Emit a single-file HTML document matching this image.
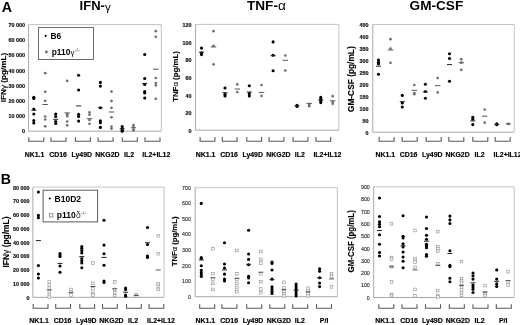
<!DOCTYPE html>
<html><head><meta charset="utf-8"><style>
html,body{margin:0;padding:0;background:#fff;}
svg{display:block;font-family:"Liberation Sans", sans-serif;}
</style></head><body>
<svg width="520" height="325" viewBox="0 0 520 325">
<defs><filter id="soft" x="0" y="0" width="1" height="1"><feGaussianBlur stdDeviation="0.3"/></filter></defs>
<g filter="url(#soft)">
<rect width="520" height="325" fill="#fff"/>
<text x="1.8" y="11.5" font-size="14.2" font-weight="bold" text-anchor="start" fill="#000" >A</text>
<text x="79.6" y="10" font-size="13" font-weight="bold" text-anchor="start" fill="#000" >IFN-<tspan font-weight="normal" font-size="11.5" dy="0.6">γ</tspan></text>
<text x="247.0" y="10" font-size="13" font-weight="bold" text-anchor="start" fill="#000" textLength="38.8" lengthAdjust="spacingAndGlyphs">TNF-<tspan font-weight="normal">α</tspan></text>
<text x="409.6" y="10" font-size="13" font-weight="bold" text-anchor="start" fill="#000" textLength="53.6" lengthAdjust="spacingAndGlyphs">GM-CSF</text>
<path d="M28.6 24.6H161.3V131.2" fill="none" stroke="#c4c4c4" stroke-width="1"/>
<path d="M28.6 24.6V131.2H161.3" fill="none" stroke="#a8a8a8" stroke-width="1"/>
<path d="M26.8 24.5H28.6" stroke="#dcdcdc" stroke-width="0.7"/>
<text x="25" y="26.7" font-size="5.4" font-weight="bold" text-anchor="end" fill="#111" stroke="#111" stroke-width="0.18">70 000</text>
<path d="M26.8 39.7H28.6" stroke="#dcdcdc" stroke-width="0.7"/>
<text x="25" y="41.900000000000006" font-size="5.4" font-weight="bold" text-anchor="end" fill="#111" stroke="#111" stroke-width="0.18">60 000</text>
<path d="M26.8 55H28.6" stroke="#dcdcdc" stroke-width="0.7"/>
<text x="25" y="57.2" font-size="5.4" font-weight="bold" text-anchor="end" fill="#111" stroke="#111" stroke-width="0.18">50 000</text>
<path d="M26.8 70.5H28.6" stroke="#dcdcdc" stroke-width="0.7"/>
<text x="25" y="72.7" font-size="5.4" font-weight="bold" text-anchor="end" fill="#111" stroke="#111" stroke-width="0.18">40 000</text>
<path d="M26.8 85.6H28.6" stroke="#dcdcdc" stroke-width="0.7"/>
<text x="25" y="87.8" font-size="5.4" font-weight="bold" text-anchor="end" fill="#111" stroke="#111" stroke-width="0.18">30 000</text>
<path d="M26.8 100.6H28.6" stroke="#dcdcdc" stroke-width="0.7"/>
<text x="25" y="102.8" font-size="5.4" font-weight="bold" text-anchor="end" fill="#111" stroke="#111" stroke-width="0.18">20 000</text>
<path d="M26.8 115.8H28.6" stroke="#dcdcdc" stroke-width="0.7"/>
<text x="25" y="118.0" font-size="5.4" font-weight="bold" text-anchor="end" fill="#111" stroke="#111" stroke-width="0.18">10 000</text>
<path d="M26.8 131H28.6" stroke="#dcdcdc" stroke-width="0.7"/>
<text x="25" y="133.2" font-size="5.4" font-weight="bold" text-anchor="end" fill="#111" stroke="#111" stroke-width="0.18">0</text>
<path d="M28.8 137.3V141.3H43.8V137.3" fill="none" stroke="#5a5a5a" stroke-width="1.1"/>
<path d="M51.0 137.3V141.3H66.0V137.3" fill="none" stroke="#5a5a5a" stroke-width="1.1"/>
<path d="M75.4 137.3V141.3H90.4V137.3" fill="none" stroke="#5a5a5a" stroke-width="1.1"/>
<path d="M98.1 137.3V141.3H113.1V137.3" fill="none" stroke="#5a5a5a" stroke-width="1.1"/>
<path d="M122.3 137.3V141.3H137.3V137.3" fill="none" stroke="#5a5a5a" stroke-width="1.1"/>
<path d="M145.0 137.3V141.3H160.0V137.3" fill="none" stroke="#5a5a5a" stroke-width="1.1"/>
<text transform="translate(5.8 77.5) rotate(-90)" x="0" y="0" font-size="8" font-weight="bold" text-anchor="middle" textLength="49.6" lengthAdjust="spacingAndGlyphs" stroke="#000" stroke-width="0.12">IFN<tspan font-weight="normal">γ</tspan> (pg/mL)</text>
<circle cx="33.8" cy="97.2" r="1.55" fill="#000"/>
<circle cx="33.8" cy="98.4" r="1.55" fill="#000"/>
<circle cx="33.8" cy="109" r="1.55" fill="#000"/>
<circle cx="33.8" cy="114" r="1.55" fill="#000"/>
<circle cx="33.8" cy="120.5" r="1.55" fill="#000"/>
<circle cx="33.8" cy="123" r="1.55" fill="#000"/>
<path d="M31.30 110.3H36.30" stroke="#222" stroke-width="1"/>
<circle cx="45.2" cy="73.2" r="1.35" fill="#707070"/>
<circle cx="45.2" cy="91.8" r="1.35" fill="#707070"/>
<circle cx="45.2" cy="100.8" r="1.35" fill="#707070"/>
<circle cx="45.2" cy="116.5" r="1.35" fill="#707070"/>
<circle cx="45.2" cy="119.5" r="1.35" fill="#707070"/>
<circle cx="45.2" cy="126.3" r="1.35" fill="#707070"/>
<path d="M42.50 104.5H47.90" stroke="#555" stroke-width="1"/>
<circle cx="55.7" cy="114" r="1.55" fill="#000"/>
<circle cx="55.7" cy="116.5" r="1.55" fill="#000"/>
<circle cx="55.7" cy="121.5" r="1.55" fill="#000"/>
<circle cx="55.7" cy="123.5" r="1.55" fill="#000"/>
<path d="M53.20 119.3H58.20" stroke="#222" stroke-width="1"/>
<circle cx="67.2" cy="80.9" r="1.35" fill="#707070"/>
<circle cx="67.2" cy="114.3" r="1.35" fill="#707070"/>
<circle cx="67.2" cy="116.2" r="1.35" fill="#707070"/>
<circle cx="67.2" cy="121.5" r="1.35" fill="#707070"/>
<circle cx="67.2" cy="125.3" r="1.35" fill="#707070"/>
<path d="M64.50 112.9H69.90" stroke="#555" stroke-width="1"/>
<circle cx="78.6" cy="75.3" r="1.55" fill="#000"/>
<circle cx="78.6" cy="90" r="1.55" fill="#000"/>
<circle cx="78.6" cy="114.3" r="1.55" fill="#000"/>
<circle cx="78.6" cy="116.4" r="1.55" fill="#000"/>
<circle cx="78.6" cy="121.1" r="1.55" fill="#000"/>
<path d="M76.10 105.9H81.10" stroke="#222" stroke-width="1"/>
<circle cx="89.5" cy="112.4" r="1.35" fill="#707070"/>
<circle cx="89.5" cy="114.8" r="1.35" fill="#707070"/>
<circle cx="89.5" cy="120" r="1.35" fill="#707070"/>
<circle cx="89.5" cy="123.8" r="1.35" fill="#707070"/>
<path d="M86.80 118.7H92.20" stroke="#555" stroke-width="1"/>
<circle cx="100.4" cy="82.4" r="1.55" fill="#000"/>
<circle cx="100.4" cy="86.1" r="1.55" fill="#000"/>
<circle cx="100.4" cy="107.8" r="1.55" fill="#000"/>
<circle cx="100.4" cy="120.7" r="1.55" fill="#000"/>
<circle cx="100.4" cy="122.8" r="1.55" fill="#000"/>
<circle cx="100.4" cy="127.4" r="1.55" fill="#000"/>
<path d="M97.90 107.8H102.90" stroke="#222" stroke-width="1"/>
<circle cx="111.5" cy="91.6" r="1.35" fill="#707070"/>
<circle cx="111.5" cy="100.9" r="1.35" fill="#707070"/>
<circle cx="111.5" cy="107.8" r="1.35" fill="#707070"/>
<circle cx="111.5" cy="117.3" r="1.35" fill="#707070"/>
<circle cx="111.5" cy="126.5" r="1.35" fill="#707070"/>
<circle cx="111.5" cy="128.6" r="1.35" fill="#707070"/>
<path d="M108.80 112H114.20" stroke="#555" stroke-width="1"/>
<circle cx="122.2" cy="126.5" r="1.55" fill="#000"/>
<circle cx="122.2" cy="128.5" r="1.55" fill="#000"/>
<circle cx="122.2" cy="130.3" r="1.55" fill="#000"/>
<circle cx="122.2" cy="131.3" r="1.55" fill="#000"/>
<path d="M119.70 128.8H124.70" stroke="#222" stroke-width="1"/>
<circle cx="133.5" cy="125" r="1.35" fill="#707070"/>
<circle cx="133.5" cy="127" r="1.35" fill="#707070"/>
<circle cx="133.5" cy="129.5" r="1.35" fill="#707070"/>
<circle cx="133.5" cy="130.5" r="1.35" fill="#707070"/>
<path d="M130.80 127.8H136.20" stroke="#555" stroke-width="1"/>
<circle cx="144.7" cy="54.5" r="1.55" fill="#000"/>
<circle cx="144.7" cy="78.5" r="1.55" fill="#000"/>
<circle cx="144.7" cy="84.4" r="1.55" fill="#000"/>
<circle cx="144.7" cy="91.6" r="1.55" fill="#000"/>
<circle cx="144.7" cy="93" r="1.55" fill="#000"/>
<circle cx="144.7" cy="98.1" r="1.55" fill="#000"/>
<path d="M142.20 83.4H147.20" stroke="#222" stroke-width="1"/>
<circle cx="155.8" cy="31.2" r="1.35" fill="#707070"/>
<circle cx="155.8" cy="36.8" r="1.35" fill="#707070"/>
<circle cx="155.8" cy="78" r="1.35" fill="#707070"/>
<circle cx="155.8" cy="83.1" r="1.35" fill="#707070"/>
<circle cx="155.8" cy="85.4" r="1.35" fill="#707070"/>
<circle cx="155.8" cy="98.8" r="1.35" fill="#707070"/>
<path d="M153.10 69.2H158.50" stroke="#555" stroke-width="1"/>
<path d="M195.6 24.4H338.8V130.2" fill="none" stroke="#c4c4c4" stroke-width="1"/>
<path d="M195.6 24.4V130.2H338.8" fill="none" stroke="#a8a8a8" stroke-width="1"/>
<path d="M193.79999999999998 24.6H195.6" stroke="#dcdcdc" stroke-width="0.7"/>
<text x="191.5" y="26.8" font-size="5.4" font-weight="bold" text-anchor="end" fill="#111" stroke="#111" stroke-width="0.18">120</text>
<path d="M193.79999999999998 42.4H195.6" stroke="#dcdcdc" stroke-width="0.7"/>
<text x="191.5" y="44.6" font-size="5.4" font-weight="bold" text-anchor="end" fill="#111" stroke="#111" stroke-width="0.18">100</text>
<path d="M193.79999999999998 60.2H195.6" stroke="#dcdcdc" stroke-width="0.7"/>
<text x="191.5" y="62.400000000000006" font-size="5.4" font-weight="bold" text-anchor="end" fill="#111" stroke="#111" stroke-width="0.18">80</text>
<path d="M193.79999999999998 78H195.6" stroke="#dcdcdc" stroke-width="0.7"/>
<text x="191.5" y="80.2" font-size="5.4" font-weight="bold" text-anchor="end" fill="#111" stroke="#111" stroke-width="0.18">60</text>
<path d="M193.79999999999998 95.6H195.6" stroke="#dcdcdc" stroke-width="0.7"/>
<text x="191.5" y="97.8" font-size="5.4" font-weight="bold" text-anchor="end" fill="#111" stroke="#111" stroke-width="0.18">40</text>
<path d="M193.79999999999998 113H195.6" stroke="#dcdcdc" stroke-width="0.7"/>
<text x="191.5" y="115.2" font-size="5.4" font-weight="bold" text-anchor="end" fill="#111" stroke="#111" stroke-width="0.18">20</text>
<path d="M193.79999999999998 130.5H195.6" stroke="#dcdcdc" stroke-width="0.7"/>
<text x="191.5" y="132.7" font-size="5.4" font-weight="bold" text-anchor="end" fill="#111" stroke="#111" stroke-width="0.18">0</text>
<path d="M200.1 137V141.3H214.9V137" fill="none" stroke="#5a5a5a" stroke-width="1.1"/>
<path d="M222.3 137V141.3H237.1V137" fill="none" stroke="#5a5a5a" stroke-width="1.1"/>
<path d="M246.8 137V141.3H261.6V137" fill="none" stroke="#5a5a5a" stroke-width="1.1"/>
<path d="M269.1 137V141.3H283.9V137" fill="none" stroke="#5a5a5a" stroke-width="1.1"/>
<path d="M293.1 137V141.3H307.9V137" fill="none" stroke="#5a5a5a" stroke-width="1.1"/>
<path d="M315.9 137V141.3H330.7V137" fill="none" stroke="#5a5a5a" stroke-width="1.1"/>
<text transform="translate(177.7 76.5) rotate(-90)" x="0" y="0" font-size="8" font-weight="bold" text-anchor="middle" textLength="50.7" lengthAdjust="spacingAndGlyphs" stroke="#000" stroke-width="0.12">TNF<tspan font-weight="normal">α</tspan> (pg/mL)</text>
<circle cx="201.5" cy="48.1" r="1.55" fill="#000"/>
<circle cx="201.5" cy="52.8" r="1.55" fill="#000"/>
<circle cx="201.5" cy="54.6" r="1.55" fill="#000"/>
<path d="M199.00 52.3H204.00" stroke="#222" stroke-width="1"/>
<circle cx="213.5" cy="31.2" r="1.35" fill="#707070"/>
<circle cx="213.5" cy="45.8" r="1.35" fill="#707070"/>
<circle cx="213.5" cy="64.3" r="1.35" fill="#707070"/>
<path d="M210.80 46.9H216.20" stroke="#555" stroke-width="1"/>
<circle cx="225" cy="88" r="1.55" fill="#000"/>
<circle cx="225" cy="94.3" r="1.55" fill="#000"/>
<circle cx="225" cy="95.9" r="1.55" fill="#000"/>
<path d="M222.50 92.7H227.50" stroke="#222" stroke-width="1"/>
<circle cx="237.3" cy="84.4" r="1.35" fill="#707070"/>
<circle cx="237.3" cy="92" r="1.35" fill="#707070"/>
<path d="M234.60 89H240.00" stroke="#555" stroke-width="1"/>
<circle cx="249.3" cy="85.7" r="1.55" fill="#000"/>
<circle cx="249.3" cy="93.6" r="1.55" fill="#000"/>
<circle cx="249.3" cy="95.9" r="1.55" fill="#000"/>
<path d="M246.80 92H251.80" stroke="#222" stroke-width="1"/>
<circle cx="261.5" cy="85" r="1.35" fill="#707070"/>
<circle cx="261.5" cy="95.9" r="1.35" fill="#707070"/>
<path d="M258.80 92.4H264.20" stroke="#555" stroke-width="1"/>
<circle cx="273.1" cy="41.9" r="1.55" fill="#000"/>
<circle cx="273.1" cy="55.2" r="1.55" fill="#000"/>
<circle cx="273.1" cy="70.7" r="1.55" fill="#000"/>
<path d="M270.60 55.7H275.60" stroke="#222" stroke-width="1"/>
<circle cx="285.3" cy="55.5" r="1.35" fill="#707070"/>
<circle cx="285.3" cy="70.5" r="1.35" fill="#707070"/>
<path d="M282.60 60.3H288.00" stroke="#555" stroke-width="1"/>
<circle cx="297" cy="105.2" r="1.55" fill="#000"/>
<circle cx="297" cy="106.4" r="1.55" fill="#000"/>
<path d="M294.50 105.8H299.50" stroke="#222" stroke-width="1"/>
<circle cx="309.2" cy="104.6" r="1.35" fill="#707070"/>
<circle cx="309.2" cy="106.2" r="1.35" fill="#707070"/>
<path d="M306.50 103.4H311.90" stroke="#555" stroke-width="1"/>
<circle cx="320.8" cy="97.4" r="1.55" fill="#000"/>
<circle cx="320.8" cy="99.2" r="1.55" fill="#000"/>
<circle cx="320.8" cy="101.1" r="1.55" fill="#000"/>
<circle cx="320.8" cy="102.6" r="1.55" fill="#000"/>
<path d="M318.30 100H323.30" stroke="#222" stroke-width="1"/>
<circle cx="332.7" cy="96.2" r="1.35" fill="#707070"/>
<circle cx="332.7" cy="102" r="1.35" fill="#707070"/>
<circle cx="332.7" cy="103.8" r="1.35" fill="#707070"/>
<path d="M330.00 100.8H335.40" stroke="#555" stroke-width="1"/>
<path d="M372.8 24.5H514.2V132.2" fill="none" stroke="#c4c4c4" stroke-width="1"/>
<path d="M372.8 24.5V132.2H514.2" fill="none" stroke="#a8a8a8" stroke-width="1"/>
<path d="M371.0 24.6H372.8" stroke="#dcdcdc" stroke-width="0.7"/>
<text x="368.5" y="26.8" font-size="5.4" font-weight="bold" text-anchor="end" fill="#111" stroke="#111" stroke-width="0.18">450</text>
<path d="M371.0 36.6H372.8" stroke="#dcdcdc" stroke-width="0.7"/>
<text x="368.5" y="38.800000000000004" font-size="5.4" font-weight="bold" text-anchor="end" fill="#111" stroke="#111" stroke-width="0.18">400</text>
<path d="M371.0 48.6H372.8" stroke="#dcdcdc" stroke-width="0.7"/>
<text x="368.5" y="50.800000000000004" font-size="5.4" font-weight="bold" text-anchor="end" fill="#111" stroke="#111" stroke-width="0.18">350</text>
<path d="M371.0 60.6H372.8" stroke="#dcdcdc" stroke-width="0.7"/>
<text x="368.5" y="62.800000000000004" font-size="5.4" font-weight="bold" text-anchor="end" fill="#111" stroke="#111" stroke-width="0.18">300</text>
<path d="M371.0 72.6H372.8" stroke="#dcdcdc" stroke-width="0.7"/>
<text x="368.5" y="74.8" font-size="5.4" font-weight="bold" text-anchor="end" fill="#111" stroke="#111" stroke-width="0.18">250</text>
<path d="M371.0 84.6H372.8" stroke="#dcdcdc" stroke-width="0.7"/>
<text x="368.5" y="86.8" font-size="5.4" font-weight="bold" text-anchor="end" fill="#111" stroke="#111" stroke-width="0.18">200</text>
<path d="M371.0 96.6H372.8" stroke="#dcdcdc" stroke-width="0.7"/>
<text x="368.5" y="98.8" font-size="5.4" font-weight="bold" text-anchor="end" fill="#111" stroke="#111" stroke-width="0.18">150</text>
<path d="M371.0 108.6H372.8" stroke="#dcdcdc" stroke-width="0.7"/>
<text x="368.5" y="110.8" font-size="5.4" font-weight="bold" text-anchor="end" fill="#111" stroke="#111" stroke-width="0.18">100</text>
<path d="M371.0 120.6H372.8" stroke="#dcdcdc" stroke-width="0.7"/>
<text x="368.5" y="122.8" font-size="5.4" font-weight="bold" text-anchor="end" fill="#111" stroke="#111" stroke-width="0.18">50</text>
<path d="M371.0 132.6H372.8" stroke="#dcdcdc" stroke-width="0.7"/>
<text x="368.5" y="134.79999999999998" font-size="5.4" font-weight="bold" text-anchor="end" fill="#111" stroke="#111" stroke-width="0.18">0</text>
<path d="M379.1 137.1V141.3H394.1V137.1" fill="none" stroke="#5a5a5a" stroke-width="1.1"/>
<path d="M402.2 137.1V141.3H417.2V137.1" fill="none" stroke="#5a5a5a" stroke-width="1.1"/>
<path d="M426.2 137.1V141.3H441.2V137.1" fill="none" stroke="#5a5a5a" stroke-width="1.1"/>
<path d="M448.8 137.1V141.3H463.8V137.1" fill="none" stroke="#5a5a5a" stroke-width="1.1"/>
<path d="M472.8 137.1V141.3H487.8V137.1" fill="none" stroke="#5a5a5a" stroke-width="1.1"/>
<path d="M495.2 137.1V141.3H510.2V137.1" fill="none" stroke="#5a5a5a" stroke-width="1.1"/>
<text transform="translate(354 79.2) rotate(-90)" x="0" y="0" font-size="8.4" font-weight="bold" text-anchor="middle" textLength="65.8" lengthAdjust="spacingAndGlyphs" stroke="#000" stroke-width="0.12">GM-CSF (pg/mL)</text>
<circle cx="378.5" cy="60" r="1.55" fill="#000"/>
<circle cx="378.5" cy="62.3" r="1.55" fill="#000"/>
<circle cx="378.5" cy="63.8" r="1.55" fill="#000"/>
<circle cx="378.5" cy="74.3" r="1.55" fill="#000"/>
<path d="M376.00 66.2H381.00" stroke="#222" stroke-width="1"/>
<circle cx="390.5" cy="39.2" r="1.35" fill="#707070"/>
<circle cx="390.5" cy="48.5" r="1.35" fill="#707070"/>
<circle cx="390.5" cy="62.8" r="1.35" fill="#707070"/>
<path d="M387.80 50H393.20" stroke="#555" stroke-width="1"/>
<circle cx="402.3" cy="95.4" r="1.55" fill="#000"/>
<circle cx="402.3" cy="102.9" r="1.55" fill="#000"/>
<circle cx="402.3" cy="107" r="1.55" fill="#000"/>
<path d="M399.80 101.7H404.80" stroke="#222" stroke-width="1"/>
<circle cx="414.3" cy="85" r="1.35" fill="#707070"/>
<circle cx="414.3" cy="93.1" r="1.35" fill="#707070"/>
<circle cx="414.3" cy="94.2" r="1.35" fill="#707070"/>
<path d="M411.60 90.3H417.00" stroke="#555" stroke-width="1"/>
<circle cx="425.4" cy="84.3" r="1.55" fill="#000"/>
<circle cx="425.4" cy="91.5" r="1.55" fill="#000"/>
<circle cx="425.4" cy="98.2" r="1.55" fill="#000"/>
<path d="M422.90 91.9H427.90" stroke="#222" stroke-width="1"/>
<circle cx="437.7" cy="78.1" r="1.35" fill="#707070"/>
<circle cx="437.7" cy="92.4" r="1.35" fill="#707070"/>
<path d="M435.00 85.7H440.40" stroke="#555" stroke-width="1"/>
<circle cx="449.5" cy="53.8" r="1.55" fill="#000"/>
<circle cx="449.5" cy="58.5" r="1.55" fill="#000"/>
<circle cx="449.5" cy="81.2" r="1.55" fill="#000"/>
<path d="M447.00 64.6H452.00" stroke="#222" stroke-width="1"/>
<circle cx="461.3" cy="59.2" r="1.35" fill="#707070"/>
<circle cx="461.3" cy="62.7" r="1.35" fill="#707070"/>
<circle cx="461.3" cy="69.9" r="1.35" fill="#707070"/>
<path d="M458.60 62.7H464.00" stroke="#555" stroke-width="1"/>
<circle cx="472.8" cy="117.2" r="1.55" fill="#000"/>
<circle cx="472.8" cy="119.3" r="1.55" fill="#000"/>
<circle cx="472.8" cy="124.6" r="1.55" fill="#000"/>
<path d="M470.30 120.9H475.30" stroke="#222" stroke-width="1"/>
<circle cx="484.7" cy="109.5" r="1.35" fill="#707070"/>
<circle cx="484.7" cy="122.7" r="1.35" fill="#707070"/>
<path d="M482.00 116.2H487.40" stroke="#555" stroke-width="1"/>
<circle cx="496.8" cy="123.9" r="1.55" fill="#000"/>
<circle cx="496.8" cy="124.7" r="1.55" fill="#000"/>
<path d="M494.30 124.3H499.30" stroke="#222" stroke-width="1"/>
<circle cx="508.3" cy="123.9" r="1.35" fill="#707070"/>
<path d="M505.60 123.9H511.00" stroke="#555" stroke-width="1"/>
<text x="34.5" y="156.6" font-size="6.95" font-weight="bold" text-anchor="middle" fill="#000" stroke="#000" stroke-width="0.15">NK1.1</text>
<text x="58" y="156.6" font-size="6.95" font-weight="bold" text-anchor="middle" fill="#000" stroke="#000" stroke-width="0.15">CD16</text>
<text x="81.75" y="156.6" font-size="6.95" font-weight="bold" text-anchor="middle" fill="#000" stroke="#000" stroke-width="0.15">Ly49D</text>
<text x="107.5" y="156.6" font-size="6.95" font-weight="bold" text-anchor="middle" fill="#000" stroke="#000" stroke-width="0.15">NKG2D</text>
<text x="129.1" y="156.6" font-size="6.95" font-weight="bold" text-anchor="middle" fill="#000" stroke="#000" stroke-width="0.15">IL2</text>
<text x="156.3" y="156.6" font-size="6.95" font-weight="bold" text-anchor="middle" fill="#000" stroke="#000" stroke-width="0.15">IL2+IL12</text>
<text x="205.6" y="156.6" font-size="6.95" font-weight="bold" text-anchor="middle" fill="#000" stroke="#000" stroke-width="0.15">NK1.1</text>
<text x="229" y="156.6" font-size="6.95" font-weight="bold" text-anchor="middle" fill="#000" stroke="#000" stroke-width="0.15">CD16</text>
<text x="252.7" y="156.6" font-size="6.95" font-weight="bold" text-anchor="middle" fill="#000" stroke="#000" stroke-width="0.15">Ly49D</text>
<text x="278.4" y="156.6" font-size="6.95" font-weight="bold" text-anchor="middle" fill="#000" stroke="#000" stroke-width="0.15">NKG2D</text>
<text x="299.75" y="156.6" font-size="6.95" font-weight="bold" text-anchor="middle" fill="#000" stroke="#000" stroke-width="0.15">IL2</text>
<text x="327.4" y="156.6" font-size="6.95" font-weight="bold" text-anchor="middle" fill="#000" stroke="#000" stroke-width="0.15">IL2+IL12</text>
<text x="385.3" y="156.6" font-size="6.95" font-weight="bold" text-anchor="middle" fill="#000" stroke="#000" stroke-width="0.15">NK1.1</text>
<text x="408.6" y="156.6" font-size="6.95" font-weight="bold" text-anchor="middle" fill="#000" stroke="#000" stroke-width="0.15">CD16</text>
<text x="432.3" y="156.6" font-size="6.95" font-weight="bold" text-anchor="middle" fill="#000" stroke="#000" stroke-width="0.15">Ly49D</text>
<text x="457.6" y="156.6" font-size="6.95" font-weight="bold" text-anchor="middle" fill="#000" stroke="#000" stroke-width="0.15">NKG2D</text>
<text x="479.5" y="156.6" font-size="6.95" font-weight="bold" text-anchor="middle" fill="#000" stroke="#000" stroke-width="0.15">IL2</text>
<text x="507.6" y="156.6" font-size="6.95" font-weight="bold" text-anchor="middle" fill="#000" stroke="#000" stroke-width="0.15">IL2+IL12</text>
<rect x="38.5" y="27.6" width="55" height="31.9" fill="#fff" stroke="#5a5a5a" stroke-width="0.9"/>
<circle cx="45.7" cy="35.8" r="1.1" fill="#000"/>
<text x="50.4" y="39" font-size="8.4" font-weight="bold" text-anchor="start" fill="#000" >B6</text>
<circle cx="46.4" cy="52" r="1.4" fill="#6a6a6a"/>
<text x="51.7" y="54.6" font-size="8.4" font-weight="bold" text-anchor="start" fill="#000" >p110<tspan font-weight="normal" dx="0.2" dy="0.6" font-size="8">γ</tspan><tspan font-size="5.6" dx="0.2" dy="-3.6" font-weight="normal" fill="#444">-/-</tspan></text>
<text x="0.8" y="183.5" font-size="14.2" font-weight="bold" text-anchor="start" fill="#000" >B</text>
<path d="M32.9 187.1H164.1V297.3" fill="none" stroke="#c4c4c4" stroke-width="1"/>
<path d="M32.9 187.1V297.3H164.1" fill="none" stroke="#a8a8a8" stroke-width="1"/>
<path d="M31.099999999999998 187.34H32.9" stroke="#dcdcdc" stroke-width="0.7"/>
<text x="29.6" y="189.54" font-size="5.4" font-weight="bold" text-anchor="end" fill="#111" stroke="#111" stroke-width="0.18">80 000</text>
<path d="M31.099999999999998 201.11H32.9" stroke="#dcdcdc" stroke-width="0.7"/>
<text x="29.6" y="203.31" font-size="5.4" font-weight="bold" text-anchor="end" fill="#111" stroke="#111" stroke-width="0.18">70 000</text>
<path d="M31.099999999999998 214.88H32.9" stroke="#dcdcdc" stroke-width="0.7"/>
<text x="29.6" y="217.07999999999998" font-size="5.4" font-weight="bold" text-anchor="end" fill="#111" stroke="#111" stroke-width="0.18">60 000</text>
<path d="M31.099999999999998 228.65H32.9" stroke="#dcdcdc" stroke-width="0.7"/>
<text x="29.6" y="230.85" font-size="5.4" font-weight="bold" text-anchor="end" fill="#111" stroke="#111" stroke-width="0.18">50 000</text>
<path d="M31.099999999999998 242.42000000000002H32.9" stroke="#dcdcdc" stroke-width="0.7"/>
<text x="29.6" y="244.62" font-size="5.4" font-weight="bold" text-anchor="end" fill="#111" stroke="#111" stroke-width="0.18">40 000</text>
<path d="M31.099999999999998 256.19H32.9" stroke="#dcdcdc" stroke-width="0.7"/>
<text x="29.6" y="258.39" font-size="5.4" font-weight="bold" text-anchor="end" fill="#111" stroke="#111" stroke-width="0.18">30 000</text>
<path d="M31.099999999999998 269.96H32.9" stroke="#dcdcdc" stroke-width="0.7"/>
<text x="29.6" y="272.15999999999997" font-size="5.4" font-weight="bold" text-anchor="end" fill="#111" stroke="#111" stroke-width="0.18">20 000</text>
<path d="M31.099999999999998 283.73H32.9" stroke="#dcdcdc" stroke-width="0.7"/>
<text x="29.6" y="285.93" font-size="5.4" font-weight="bold" text-anchor="end" fill="#111" stroke="#111" stroke-width="0.18">10 000</text>
<path d="M31.099999999999998 297.5H32.9" stroke="#dcdcdc" stroke-width="0.7"/>
<text x="29.6" y="299.7" font-size="5.4" font-weight="bold" text-anchor="end" fill="#111" stroke="#111" stroke-width="0.18">0</text>
<path d="M33.2 304V308.3H48.0V304" fill="none" stroke="#5a5a5a" stroke-width="1.1"/>
<path d="M55.7 304V308.3H70.5V304" fill="none" stroke="#5a5a5a" stroke-width="1.1"/>
<path d="M79.8 304V308.3H94.6V304" fill="none" stroke="#5a5a5a" stroke-width="1.1"/>
<path d="M102.5 304V308.3H117.3V304" fill="none" stroke="#5a5a5a" stroke-width="1.1"/>
<path d="M126.5 304V308.3H141.3V304" fill="none" stroke="#5a5a5a" stroke-width="1.1"/>
<path d="M149.0 304V308.3H163.8V304" fill="none" stroke="#5a5a5a" stroke-width="1.1"/>
<text transform="translate(9.2 242) rotate(-90)" x="0" y="0" font-size="8.3" font-weight="bold" text-anchor="middle" textLength="51" lengthAdjust="spacingAndGlyphs" stroke="#000" stroke-width="0.12">IFN<tspan font-weight="normal">γ</tspan> (pg/mL)</text>
<path d="M195.2 187.7H337.3V296.7" fill="none" stroke="#c4c4c4" stroke-width="1"/>
<path d="M195.2 187.7V296.7H337.3" fill="none" stroke="#a8a8a8" stroke-width="1"/>
<path d="M193.39999999999998 187.3H195.2" stroke="#dcdcdc" stroke-width="0.7"/>
<text x="190.9" y="189.5" font-size="5.3" font-weight="normal" text-anchor="end" fill="#111" stroke="#333" stroke-width="0.1">700</text>
<path d="M193.39999999999998 202.9H195.2" stroke="#dcdcdc" stroke-width="0.7"/>
<text x="190.9" y="205.1" font-size="5.3" font-weight="normal" text-anchor="end" fill="#111" stroke="#333" stroke-width="0.1">600</text>
<path d="M193.39999999999998 218.5H195.2" stroke="#dcdcdc" stroke-width="0.7"/>
<text x="190.9" y="220.7" font-size="5.3" font-weight="normal" text-anchor="end" fill="#111" stroke="#333" stroke-width="0.1">500</text>
<path d="M193.39999999999998 234.1H195.2" stroke="#dcdcdc" stroke-width="0.7"/>
<text x="190.9" y="236.29999999999998" font-size="5.3" font-weight="normal" text-anchor="end" fill="#111" stroke="#333" stroke-width="0.1">400</text>
<path d="M193.39999999999998 249.7H195.2" stroke="#dcdcdc" stroke-width="0.7"/>
<text x="190.9" y="251.89999999999998" font-size="5.3" font-weight="normal" text-anchor="end" fill="#111" stroke="#333" stroke-width="0.1">300</text>
<path d="M193.39999999999998 265.3H195.2" stroke="#dcdcdc" stroke-width="0.7"/>
<text x="190.9" y="267.5" font-size="5.3" font-weight="normal" text-anchor="end" fill="#111" stroke="#333" stroke-width="0.1">200</text>
<path d="M193.39999999999998 280.9H195.2" stroke="#dcdcdc" stroke-width="0.7"/>
<text x="190.9" y="283.09999999999997" font-size="5.3" font-weight="normal" text-anchor="end" fill="#111" stroke="#333" stroke-width="0.1">100</text>
<path d="M193.39999999999998 296.5H195.2" stroke="#dcdcdc" stroke-width="0.7"/>
<text x="190.9" y="298.7" font-size="5.3" font-weight="normal" text-anchor="end" fill="#111" stroke="#333" stroke-width="0.1">0</text>
<path d="M199.7 304.2V308.2H214.7V304.2" fill="none" stroke="#5a5a5a" stroke-width="1.1"/>
<path d="M221.9 304.2V308.2H236.9V304.2" fill="none" stroke="#5a5a5a" stroke-width="1.1"/>
<path d="M246.7 304.2V308.2H261.7V304.2" fill="none" stroke="#5a5a5a" stroke-width="1.1"/>
<path d="M269.8 304.2V308.2H284.8V304.2" fill="none" stroke="#5a5a5a" stroke-width="1.1"/>
<path d="M292.7 304.2V308.2H307.7V304.2" fill="none" stroke="#5a5a5a" stroke-width="1.1"/>
<path d="M316.5 304.2V308.2H331.5V304.2" fill="none" stroke="#5a5a5a" stroke-width="1.1"/>
<text transform="translate(177 241.4) rotate(-90)" x="0" y="0" font-size="8" font-weight="bold" text-anchor="middle" textLength="49.7" lengthAdjust="spacingAndGlyphs" stroke="#000" stroke-width="0.12">TNF<tspan font-weight="normal">α</tspan> (pg/mL)</text>
<path d="M373.7 186.8H514.2V297.5" fill="none" stroke="#c4c4c4" stroke-width="1"/>
<path d="M373.7 186.8V297.5H514.2" fill="none" stroke="#a8a8a8" stroke-width="1"/>
<path d="M371.9 186.89000000000001H373.7" stroke="#dcdcdc" stroke-width="0.7"/>
<text x="369.8" y="189.09" font-size="5.3" font-weight="normal" text-anchor="end" fill="#111" stroke="#333" stroke-width="0.1">900</text>
<path d="M371.9 199.18H373.7" stroke="#dcdcdc" stroke-width="0.7"/>
<text x="369.8" y="201.38" font-size="5.3" font-weight="normal" text-anchor="end" fill="#111" stroke="#333" stroke-width="0.1">800</text>
<path d="M371.9 211.47H373.7" stroke="#dcdcdc" stroke-width="0.7"/>
<text x="369.8" y="213.67" font-size="5.3" font-weight="normal" text-anchor="end" fill="#111" stroke="#333" stroke-width="0.1">700</text>
<path d="M371.9 223.76H373.7" stroke="#dcdcdc" stroke-width="0.7"/>
<text x="369.8" y="225.95999999999998" font-size="5.3" font-weight="normal" text-anchor="end" fill="#111" stroke="#333" stroke-width="0.1">600</text>
<path d="M371.9 236.05H373.7" stroke="#dcdcdc" stroke-width="0.7"/>
<text x="369.8" y="238.25" font-size="5.3" font-weight="normal" text-anchor="end" fill="#111" stroke="#333" stroke-width="0.1">500</text>
<path d="M371.9 248.34H373.7" stroke="#dcdcdc" stroke-width="0.7"/>
<text x="369.8" y="250.54" font-size="5.3" font-weight="normal" text-anchor="end" fill="#111" stroke="#333" stroke-width="0.1">400</text>
<path d="M371.9 260.63H373.7" stroke="#dcdcdc" stroke-width="0.7"/>
<text x="369.8" y="262.83" font-size="5.3" font-weight="normal" text-anchor="end" fill="#111" stroke="#333" stroke-width="0.1">300</text>
<path d="M371.9 272.92H373.7" stroke="#dcdcdc" stroke-width="0.7"/>
<text x="369.8" y="275.12" font-size="5.3" font-weight="normal" text-anchor="end" fill="#111" stroke="#333" stroke-width="0.1">200</text>
<path d="M371.9 285.21H373.7" stroke="#dcdcdc" stroke-width="0.7"/>
<text x="369.8" y="287.40999999999997" font-size="5.3" font-weight="normal" text-anchor="end" fill="#111" stroke="#333" stroke-width="0.1">100</text>
<path d="M371.9 297.5H373.7" stroke="#dcdcdc" stroke-width="0.7"/>
<text x="369.8" y="299.7" font-size="5.3" font-weight="normal" text-anchor="end" fill="#111" stroke="#333" stroke-width="0.1">0</text>
<path d="M378.8 304.2V308.2H393.8V304.2" fill="none" stroke="#5a5a5a" stroke-width="1.1"/>
<path d="M402.0 304.2V308.2H417.0V304.2" fill="none" stroke="#5a5a5a" stroke-width="1.1"/>
<path d="M425.5 304.2V308.2H440.5V304.2" fill="none" stroke="#5a5a5a" stroke-width="1.1"/>
<path d="M449.3 304.2V308.2H464.3V304.2" fill="none" stroke="#5a5a5a" stroke-width="1.1"/>
<path d="M473.0 304.2V308.2H488.0V304.2" fill="none" stroke="#5a5a5a" stroke-width="1.1"/>
<path d="M496.3 304.2V308.2H511.3V304.2" fill="none" stroke="#5a5a5a" stroke-width="1.1"/>
<text transform="translate(354 241.3) rotate(-90)" x="0" y="0" font-size="8.3" font-weight="bold" text-anchor="middle" textLength="62.2" lengthAdjust="spacingAndGlyphs" stroke="#000" stroke-width="0.12">GM-CSF (pg/mL)</text>
<circle cx="38.4" cy="192" r="1.55" fill="#000"/>
<circle cx="38.4" cy="215.4" r="1.55" fill="#000"/>
<circle cx="38.4" cy="217.8" r="1.55" fill="#000"/>
<circle cx="38.4" cy="265.6" r="1.55" fill="#000"/>
<circle cx="38.4" cy="274" r="1.55" fill="#000"/>
<circle cx="38.4" cy="278" r="1.55" fill="#000"/>
<path d="M35.90 240.6H40.90" stroke="#222" stroke-width="1"/>
<rect x="48.00" y="280.70" width="2.6" height="2.6" fill="#fff" stroke="#9a9a9a" stroke-width="0.7"/>
<rect x="48.00" y="283.70" width="2.6" height="2.6" fill="#fff" stroke="#9a9a9a" stroke-width="0.7"/>
<rect x="48.00" y="286.70" width="2.6" height="2.6" fill="#fff" stroke="#9a9a9a" stroke-width="0.7"/>
<rect x="48.00" y="290.70" width="2.6" height="2.6" fill="#fff" stroke="#9a9a9a" stroke-width="0.7"/>
<rect x="48.00" y="293.70" width="2.6" height="2.6" fill="#fff" stroke="#9a9a9a" stroke-width="0.7"/>
<rect x="48.00" y="295.70" width="2.6" height="2.6" fill="#fff" stroke="#9a9a9a" stroke-width="0.7"/>
<path d="M46.80 289.9H51.80" stroke="#555" stroke-width="1"/>
<circle cx="60" cy="253.6" r="1.55" fill="#000"/>
<circle cx="60" cy="255" r="1.55" fill="#000"/>
<circle cx="60" cy="256.5" r="1.55" fill="#000"/>
<circle cx="60" cy="266" r="1.55" fill="#000"/>
<circle cx="60" cy="272.3" r="1.55" fill="#000"/>
<path d="M57.50 263.4H62.50" stroke="#222" stroke-width="1"/>
<rect x="69.70" y="288.20" width="2.6" height="2.6" fill="#fff" stroke="#9a9a9a" stroke-width="0.7"/>
<rect x="69.70" y="290.70" width="2.6" height="2.6" fill="#fff" stroke="#9a9a9a" stroke-width="0.7"/>
<rect x="69.70" y="293.70" width="2.6" height="2.6" fill="#fff" stroke="#9a9a9a" stroke-width="0.7"/>
<path d="M68.50 292.4H73.50" stroke="#555" stroke-width="1"/>
<circle cx="81.8" cy="246.5" r="1.55" fill="#000"/>
<circle cx="81.8" cy="248.3" r="1.55" fill="#000"/>
<circle cx="81.8" cy="250.5" r="1.55" fill="#000"/>
<circle cx="81.8" cy="252.9" r="1.55" fill="#000"/>
<circle cx="81.8" cy="258.5" r="1.55" fill="#000"/>
<circle cx="81.8" cy="260.7" r="1.55" fill="#000"/>
<circle cx="81.8" cy="263" r="1.55" fill="#000"/>
<circle cx="81.8" cy="267.7" r="1.55" fill="#000"/>
<path d="M79.30 256.6H84.30" stroke="#222" stroke-width="1"/>
<rect x="91.60" y="261.70" width="2.6" height="2.6" fill="#fff" stroke="#9a9a9a" stroke-width="0.7"/>
<rect x="91.60" y="282.10" width="2.6" height="2.6" fill="#fff" stroke="#9a9a9a" stroke-width="0.7"/>
<rect x="91.60" y="287.60" width="2.6" height="2.6" fill="#fff" stroke="#9a9a9a" stroke-width="0.7"/>
<rect x="91.60" y="292.20" width="2.6" height="2.6" fill="#fff" stroke="#9a9a9a" stroke-width="0.7"/>
<rect x="91.60" y="293.70" width="2.6" height="2.6" fill="#fff" stroke="#9a9a9a" stroke-width="0.7"/>
<path d="M90.40 286.5H95.40" stroke="#555" stroke-width="1"/>
<circle cx="104" cy="220.2" r="1.55" fill="#000"/>
<circle cx="104" cy="245.1" r="1.55" fill="#000"/>
<circle cx="104" cy="253.7" r="1.55" fill="#000"/>
<circle cx="104" cy="265.3" r="1.55" fill="#000"/>
<circle cx="104" cy="281" r="1.55" fill="#000"/>
<circle cx="104" cy="282.5" r="1.55" fill="#000"/>
<path d="M101.50 257.4H106.50" stroke="#222" stroke-width="1"/>
<rect x="113.40" y="280.60" width="2.6" height="2.6" fill="#fff" stroke="#9a9a9a" stroke-width="0.7"/>
<rect x="113.40" y="288.10" width="2.6" height="2.6" fill="#fff" stroke="#9a9a9a" stroke-width="0.7"/>
<rect x="113.40" y="291.20" width="2.6" height="2.6" fill="#fff" stroke="#9a9a9a" stroke-width="0.7"/>
<rect x="113.40" y="294.30" width="2.6" height="2.6" fill="#fff" stroke="#9a9a9a" stroke-width="0.7"/>
<path d="M112.20 288.75H117.20" stroke="#555" stroke-width="1"/>
<circle cx="125.6" cy="288.1" r="1.55" fill="#000"/>
<circle cx="125.6" cy="289.6" r="1.55" fill="#000"/>
<circle cx="125.6" cy="295" r="1.55" fill="#000"/>
<circle cx="125.6" cy="296.3" r="1.55" fill="#000"/>
<path d="M123.10 292.25H128.10" stroke="#222" stroke-width="1"/>
<rect x="134.95" y="293.45" width="2.6" height="2.6" fill="#fff" stroke="#9a9a9a" stroke-width="0.7"/>
<rect x="134.95" y="294.70" width="2.6" height="2.6" fill="#fff" stroke="#9a9a9a" stroke-width="0.7"/>
<path d="M133.75 295.5H138.75" stroke="#555" stroke-width="1"/>
<circle cx="147.5" cy="227.5" r="1.55" fill="#000"/>
<circle cx="147.5" cy="244.5" r="1.55" fill="#000"/>
<circle cx="147.5" cy="256" r="1.55" fill="#000"/>
<circle cx="147.5" cy="257.4" r="1.55" fill="#000"/>
<path d="M145.00 242.7H150.00" stroke="#222" stroke-width="1"/>
<rect x="156.90" y="234.40" width="2.6" height="2.6" fill="#fff" stroke="#9a9a9a" stroke-width="0.7"/>
<rect x="156.90" y="252.40" width="2.6" height="2.6" fill="#fff" stroke="#9a9a9a" stroke-width="0.7"/>
<rect x="156.90" y="282.45" width="2.6" height="2.6" fill="#fff" stroke="#9a9a9a" stroke-width="0.7"/>
<rect x="156.90" y="284.95" width="2.6" height="2.6" fill="#fff" stroke="#9a9a9a" stroke-width="0.7"/>
<rect x="156.90" y="288.10" width="2.6" height="2.6" fill="#fff" stroke="#9a9a9a" stroke-width="0.7"/>
<path d="M155.70 270H160.70" stroke="#555" stroke-width="1"/>
<circle cx="201.3" cy="203.4" r="1.55" fill="#000"/>
<circle cx="201.3" cy="257.5" r="1.55" fill="#000"/>
<circle cx="201.3" cy="258.5" r="1.55" fill="#000"/>
<circle cx="201.3" cy="265.8" r="1.55" fill="#000"/>
<circle cx="201.3" cy="270.4" r="1.55" fill="#000"/>
<circle cx="201.3" cy="272.8" r="1.55" fill="#000"/>
<circle cx="201.3" cy="275" r="1.55" fill="#000"/>
<circle cx="201.3" cy="276.5" r="1.55" fill="#000"/>
<path d="M198.80 260H203.80" stroke="#222" stroke-width="1"/>
<rect x="211.60" y="247.40" width="2.6" height="2.6" fill="#fff" stroke="#9a9a9a" stroke-width="0.7"/>
<rect x="211.60" y="272.30" width="2.6" height="2.6" fill="#fff" stroke="#9a9a9a" stroke-width="0.7"/>
<rect x="211.60" y="277.80" width="2.6" height="2.6" fill="#fff" stroke="#9a9a9a" stroke-width="0.7"/>
<rect x="211.60" y="282.10" width="2.6" height="2.6" fill="#fff" stroke="#9a9a9a" stroke-width="0.7"/>
<rect x="211.60" y="288.10" width="2.6" height="2.6" fill="#fff" stroke="#9a9a9a" stroke-width="0.7"/>
<path d="M210.40 277.8H215.40" stroke="#555" stroke-width="1"/>
<circle cx="224.5" cy="242.8" r="1.55" fill="#000"/>
<circle cx="224.5" cy="264" r="1.55" fill="#000"/>
<circle cx="224.5" cy="268" r="1.55" fill="#000"/>
<circle cx="224.5" cy="274.1" r="1.55" fill="#000"/>
<circle cx="224.5" cy="279.1" r="1.55" fill="#000"/>
<circle cx="224.5" cy="281" r="1.55" fill="#000"/>
<path d="M222.00 269.9H227.00" stroke="#222" stroke-width="1"/>
<rect x="235.60" y="249.20" width="2.6" height="2.6" fill="#fff" stroke="#9a9a9a" stroke-width="0.7"/>
<rect x="235.60" y="272.50" width="2.6" height="2.6" fill="#fff" stroke="#9a9a9a" stroke-width="0.7"/>
<rect x="235.60" y="278.00" width="2.6" height="2.6" fill="#fff" stroke="#9a9a9a" stroke-width="0.7"/>
<rect x="235.60" y="282.10" width="2.6" height="2.6" fill="#fff" stroke="#9a9a9a" stroke-width="0.7"/>
<rect x="235.60" y="286.30" width="2.6" height="2.6" fill="#fff" stroke="#9a9a9a" stroke-width="0.7"/>
<rect x="235.60" y="290.40" width="2.6" height="2.6" fill="#fff" stroke="#9a9a9a" stroke-width="0.7"/>
<path d="M234.40 278.4H239.40" stroke="#555" stroke-width="1"/>
<circle cx="248.6" cy="230.3" r="1.55" fill="#000"/>
<circle cx="248.6" cy="254" r="1.55" fill="#000"/>
<circle cx="248.6" cy="259.4" r="1.55" fill="#000"/>
<circle cx="248.6" cy="264.8" r="1.55" fill="#000"/>
<circle cx="248.6" cy="276.2" r="1.55" fill="#000"/>
<circle cx="248.6" cy="277.9" r="1.55" fill="#000"/>
<circle cx="248.6" cy="282.8" r="1.55" fill="#000"/>
<path d="M246.10 264.3H251.10" stroke="#222" stroke-width="1"/>
<rect x="259.60" y="250.20" width="2.6" height="2.6" fill="#fff" stroke="#9a9a9a" stroke-width="0.7"/>
<rect x="259.60" y="258.10" width="2.6" height="2.6" fill="#fff" stroke="#9a9a9a" stroke-width="0.7"/>
<rect x="259.60" y="261.80" width="2.6" height="2.6" fill="#fff" stroke="#9a9a9a" stroke-width="0.7"/>
<rect x="259.60" y="272.40" width="2.6" height="2.6" fill="#fff" stroke="#9a9a9a" stroke-width="0.7"/>
<rect x="259.60" y="280.30" width="2.6" height="2.6" fill="#fff" stroke="#9a9a9a" stroke-width="0.7"/>
<rect x="259.60" y="287.70" width="2.6" height="2.6" fill="#fff" stroke="#9a9a9a" stroke-width="0.7"/>
<rect x="259.60" y="291.40" width="2.6" height="2.6" fill="#fff" stroke="#9a9a9a" stroke-width="0.7"/>
<path d="M258.40 272.2H263.40" stroke="#555" stroke-width="1"/>
<circle cx="272" cy="262" r="1.55" fill="#000"/>
<circle cx="272" cy="263.5" r="1.55" fill="#000"/>
<circle cx="272" cy="270" r="1.55" fill="#000"/>
<circle cx="272" cy="279.1" r="1.55" fill="#000"/>
<circle cx="272" cy="286.9" r="1.55" fill="#000"/>
<circle cx="272" cy="289.2" r="1.55" fill="#000"/>
<circle cx="272" cy="291.5" r="1.55" fill="#000"/>
<circle cx="272" cy="293.4" r="1.55" fill="#000"/>
<path d="M269.50 279.7H274.50" stroke="#222" stroke-width="1"/>
<rect x="282.60" y="281.00" width="2.6" height="2.6" fill="#fff" stroke="#9a9a9a" stroke-width="0.7"/>
<rect x="282.60" y="286.40" width="2.6" height="2.6" fill="#fff" stroke="#9a9a9a" stroke-width="0.7"/>
<rect x="282.60" y="290.20" width="2.6" height="2.6" fill="#fff" stroke="#9a9a9a" stroke-width="0.7"/>
<rect x="282.60" y="292.50" width="2.6" height="2.6" fill="#fff" stroke="#9a9a9a" stroke-width="0.7"/>
<rect x="282.60" y="294.50" width="2.6" height="2.6" fill="#fff" stroke="#9a9a9a" stroke-width="0.7"/>
<path d="M281.40 289.7H286.40" stroke="#555" stroke-width="1"/>
<circle cx="296.1" cy="284" r="1.55" fill="#000"/>
<circle cx="296.1" cy="286" r="1.55" fill="#000"/>
<circle cx="296.1" cy="288" r="1.55" fill="#000"/>
<circle cx="296.1" cy="290" r="1.55" fill="#000"/>
<circle cx="296.1" cy="292" r="1.55" fill="#000"/>
<circle cx="296.1" cy="294" r="1.55" fill="#000"/>
<circle cx="296.1" cy="296" r="1.55" fill="#000"/>
<path d="M293.60 290H298.60" stroke="#222" stroke-width="1"/>
<rect x="306.80" y="286.90" width="2.6" height="2.6" fill="#fff" stroke="#9a9a9a" stroke-width="0.7"/>
<rect x="306.80" y="289.50" width="2.6" height="2.6" fill="#fff" stroke="#9a9a9a" stroke-width="0.7"/>
<rect x="306.80" y="292.50" width="2.6" height="2.6" fill="#fff" stroke="#9a9a9a" stroke-width="0.7"/>
<rect x="306.80" y="294.50" width="2.6" height="2.6" fill="#fff" stroke="#9a9a9a" stroke-width="0.7"/>
<path d="M305.60 291.8H310.60" stroke="#555" stroke-width="1"/>
<circle cx="319.6" cy="268.8" r="1.55" fill="#000"/>
<circle cx="319.6" cy="271.2" r="1.55" fill="#000"/>
<circle cx="319.6" cy="277.8" r="1.55" fill="#000"/>
<circle cx="319.6" cy="283" r="1.55" fill="#000"/>
<circle cx="319.6" cy="286.6" r="1.55" fill="#000"/>
<path d="M317.10 277.8H322.10" stroke="#222" stroke-width="1"/>
<rect x="330.20" y="272.50" width="2.6" height="2.6" fill="#fff" stroke="#9a9a9a" stroke-width="0.7"/>
<rect x="330.20" y="274.90" width="2.6" height="2.6" fill="#fff" stroke="#9a9a9a" stroke-width="0.7"/>
<rect x="330.20" y="285.60" width="2.6" height="2.6" fill="#fff" stroke="#9a9a9a" stroke-width="0.7"/>
<path d="M329.00 278.9H334.00" stroke="#555" stroke-width="1"/>
<circle cx="379.5" cy="198" r="1.55" fill="#000"/>
<circle cx="379.5" cy="216.5" r="1.55" fill="#000"/>
<circle cx="379.5" cy="221.9" r="1.55" fill="#000"/>
<circle cx="379.5" cy="224.3" r="1.55" fill="#000"/>
<circle cx="379.5" cy="226.8" r="1.55" fill="#000"/>
<circle cx="379.5" cy="234.7" r="1.55" fill="#000"/>
<circle cx="379.5" cy="244.3" r="1.55" fill="#000"/>
<circle cx="379.5" cy="252.5" r="1.55" fill="#000"/>
<circle cx="379.5" cy="256" r="1.55" fill="#000"/>
<path d="M377.00 230.5H382.00" stroke="#222" stroke-width="1"/>
<rect x="390.20" y="222.50" width="2.6" height="2.6" fill="#fff" stroke="#9a9a9a" stroke-width="0.7"/>
<rect x="390.20" y="256.20" width="2.6" height="2.6" fill="#fff" stroke="#9a9a9a" stroke-width="0.7"/>
<rect x="390.20" y="257.70" width="2.6" height="2.6" fill="#fff" stroke="#9a9a9a" stroke-width="0.7"/>
<rect x="390.20" y="265.50" width="2.6" height="2.6" fill="#fff" stroke="#9a9a9a" stroke-width="0.7"/>
<rect x="390.20" y="280.60" width="2.6" height="2.6" fill="#fff" stroke="#9a9a9a" stroke-width="0.7"/>
<rect x="390.20" y="293.10" width="2.6" height="2.6" fill="#fff" stroke="#9a9a9a" stroke-width="0.7"/>
<rect x="390.20" y="294.40" width="2.6" height="2.6" fill="#fff" stroke="#9a9a9a" stroke-width="0.7"/>
<path d="M389.00 266.8H394.00" stroke="#555" stroke-width="1"/>
<circle cx="403.1" cy="215.7" r="1.55" fill="#000"/>
<circle cx="403.1" cy="236.2" r="1.55" fill="#000"/>
<circle cx="403.1" cy="237.9" r="1.55" fill="#000"/>
<circle cx="403.1" cy="243.7" r="1.55" fill="#000"/>
<circle cx="403.1" cy="247" r="1.55" fill="#000"/>
<circle cx="403.1" cy="252" r="1.55" fill="#000"/>
<circle cx="403.1" cy="257" r="1.55" fill="#000"/>
<circle cx="403.1" cy="261.2" r="1.55" fill="#000"/>
<circle cx="403.1" cy="267.7" r="1.55" fill="#000"/>
<path d="M400.60 245.8H405.60" stroke="#222" stroke-width="1"/>
<rect x="413.70" y="229.20" width="2.6" height="2.6" fill="#fff" stroke="#9a9a9a" stroke-width="0.7"/>
<rect x="413.70" y="257.20" width="2.6" height="2.6" fill="#fff" stroke="#9a9a9a" stroke-width="0.7"/>
<rect x="413.70" y="259.00" width="2.6" height="2.6" fill="#fff" stroke="#9a9a9a" stroke-width="0.7"/>
<rect x="413.70" y="260.80" width="2.6" height="2.6" fill="#fff" stroke="#9a9a9a" stroke-width="0.7"/>
<rect x="413.70" y="266.00" width="2.6" height="2.6" fill="#fff" stroke="#9a9a9a" stroke-width="0.7"/>
<rect x="413.70" y="288.10" width="2.6" height="2.6" fill="#fff" stroke="#9a9a9a" stroke-width="0.7"/>
<rect x="413.70" y="294.60" width="2.6" height="2.6" fill="#fff" stroke="#9a9a9a" stroke-width="0.7"/>
<path d="M412.50 269.9H417.50" stroke="#555" stroke-width="1"/>
<circle cx="426.5" cy="217" r="1.55" fill="#000"/>
<circle cx="426.5" cy="228.5" r="1.55" fill="#000"/>
<circle cx="426.5" cy="235.3" r="1.55" fill="#000"/>
<circle cx="426.5" cy="239.2" r="1.55" fill="#000"/>
<circle cx="426.5" cy="244.2" r="1.55" fill="#000"/>
<circle cx="426.5" cy="245.8" r="1.55" fill="#000"/>
<circle cx="426.5" cy="247.8" r="1.55" fill="#000"/>
<circle cx="426.5" cy="254.5" r="1.55" fill="#000"/>
<circle cx="426.5" cy="256.2" r="1.55" fill="#000"/>
<path d="M424.00 241.2H429.00" stroke="#222" stroke-width="1"/>
<rect x="436.50" y="230.30" width="2.6" height="2.6" fill="#fff" stroke="#9a9a9a" stroke-width="0.7"/>
<rect x="436.50" y="245.50" width="2.6" height="2.6" fill="#fff" stroke="#9a9a9a" stroke-width="0.7"/>
<rect x="436.50" y="247.50" width="2.6" height="2.6" fill="#fff" stroke="#9a9a9a" stroke-width="0.7"/>
<rect x="436.50" y="249.90" width="2.6" height="2.6" fill="#fff" stroke="#9a9a9a" stroke-width="0.7"/>
<rect x="436.50" y="262.50" width="2.6" height="2.6" fill="#fff" stroke="#9a9a9a" stroke-width="0.7"/>
<rect x="436.50" y="289.20" width="2.6" height="2.6" fill="#fff" stroke="#9a9a9a" stroke-width="0.7"/>
<rect x="436.50" y="294.10" width="2.6" height="2.6" fill="#fff" stroke="#9a9a9a" stroke-width="0.7"/>
<rect x="436.50" y="295.60" width="2.6" height="2.6" fill="#fff" stroke="#9a9a9a" stroke-width="0.7"/>
<path d="M435.30 265.4H440.30" stroke="#555" stroke-width="1"/>
<circle cx="449.9" cy="216.1" r="1.55" fill="#000"/>
<circle cx="449.9" cy="219.9" r="1.55" fill="#000"/>
<circle cx="449.9" cy="223.5" r="1.55" fill="#000"/>
<circle cx="449.9" cy="250.8" r="1.55" fill="#000"/>
<circle cx="449.9" cy="265.4" r="1.55" fill="#000"/>
<circle cx="449.9" cy="266.6" r="1.55" fill="#000"/>
<circle cx="449.9" cy="278.2" r="1.55" fill="#000"/>
<circle cx="449.9" cy="281.8" r="1.55" fill="#000"/>
<path d="M447.40 253.5H452.40" stroke="#222" stroke-width="1"/>
<rect x="460.20" y="260.20" width="2.6" height="2.6" fill="#fff" stroke="#9a9a9a" stroke-width="0.7"/>
<rect x="460.20" y="277.60" width="2.6" height="2.6" fill="#fff" stroke="#9a9a9a" stroke-width="0.7"/>
<rect x="460.20" y="279.50" width="2.6" height="2.6" fill="#fff" stroke="#9a9a9a" stroke-width="0.7"/>
<rect x="460.20" y="281.80" width="2.6" height="2.6" fill="#fff" stroke="#9a9a9a" stroke-width="0.7"/>
<rect x="460.20" y="286.40" width="2.6" height="2.6" fill="#fff" stroke="#9a9a9a" stroke-width="0.7"/>
<rect x="460.20" y="288.70" width="2.6" height="2.6" fill="#fff" stroke="#9a9a9a" stroke-width="0.7"/>
<rect x="460.20" y="291.50" width="2.6" height="2.6" fill="#fff" stroke="#9a9a9a" stroke-width="0.7"/>
<rect x="460.20" y="294.10" width="2.6" height="2.6" fill="#fff" stroke="#9a9a9a" stroke-width="0.7"/>
<path d="M459.00 285.4H464.00" stroke="#555" stroke-width="1"/>
<circle cx="473" cy="273.1" r="1.55" fill="#000"/>
<circle cx="473" cy="275.7" r="1.55" fill="#000"/>
<circle cx="473" cy="279.1" r="1.55" fill="#000"/>
<circle cx="473" cy="285" r="1.55" fill="#000"/>
<circle cx="473" cy="287.1" r="1.55" fill="#000"/>
<circle cx="473" cy="289.3" r="1.55" fill="#000"/>
<circle cx="473" cy="292.5" r="1.55" fill="#000"/>
<path d="M470.50 282.8H475.50" stroke="#222" stroke-width="1"/>
<rect x="483.70" y="284.30" width="2.6" height="2.6" fill="#fff" stroke="#9a9a9a" stroke-width="0.7"/>
<rect x="483.70" y="291.20" width="2.6" height="2.6" fill="#fff" stroke="#9a9a9a" stroke-width="0.7"/>
<rect x="483.70" y="292.90" width="2.6" height="2.6" fill="#fff" stroke="#9a9a9a" stroke-width="0.7"/>
<rect x="483.70" y="294.40" width="2.6" height="2.6" fill="#fff" stroke="#9a9a9a" stroke-width="0.7"/>
<path d="M482.50 292H487.50" stroke="#555" stroke-width="1"/>
<circle cx="496.7" cy="269.9" r="1.55" fill="#000"/>
<circle cx="496.7" cy="279.1" r="1.55" fill="#000"/>
<circle cx="496.7" cy="283.9" r="1.55" fill="#000"/>
<circle cx="496.7" cy="286.5" r="1.55" fill="#000"/>
<path d="M494.20 281.3H499.20" stroke="#222" stroke-width="1"/>
<rect x="506.80" y="270.30" width="2.6" height="2.6" fill="#fff" stroke="#9a9a9a" stroke-width="0.7"/>
<rect x="506.80" y="280.90" width="2.6" height="2.6" fill="#fff" stroke="#9a9a9a" stroke-width="0.7"/>
<rect x="506.80" y="283.70" width="2.6" height="2.6" fill="#fff" stroke="#9a9a9a" stroke-width="0.7"/>
<path d="M505.60 280.6H510.60" stroke="#555" stroke-width="1"/>
<rect x="43.1" y="190.2" width="54.5" height="31.7" fill="#fff" stroke="#5a5a5a" stroke-width="1"/>
<circle cx="49.8" cy="198.6" r="1.0" fill="#000"/>
<text x="54.6" y="201.7" font-size="8.5" font-weight="bold" text-anchor="start" fill="#000" >B10D2</text>
<rect x="49.60" y="213.70" width="3.3" height="3.3" fill="#fff" stroke="#6a6a6a" stroke-width="0.7"/>
<text x="56.8" y="217.7" font-size="8.5" font-weight="bold" text-anchor="start" fill="#000" >p110<tspan font-weight="normal" fill="#333" dx="0.2">δ</tspan><tspan font-size="5.6" dx="0.2" dy="-3" font-weight="normal" fill="#555">-/-</tspan></text>
<text x="39" y="323.3" font-size="6.95" font-weight="bold" text-anchor="middle" fill="#000" stroke="#000" stroke-width="0.15">NK1.1</text>
<text x="62.5" y="323.3" font-size="6.95" font-weight="bold" text-anchor="middle" fill="#000" stroke="#000" stroke-width="0.15">CD16</text>
<text x="86.3" y="323.3" font-size="6.95" font-weight="bold" text-anchor="middle" fill="#000" stroke="#000" stroke-width="0.15">Ly49D</text>
<text x="111.5" y="323.3" font-size="6.95" font-weight="bold" text-anchor="middle" fill="#000" stroke="#000" stroke-width="0.15">NKG2D</text>
<text x="133" y="323.3" font-size="6.95" font-weight="bold" text-anchor="middle" fill="#000" stroke="#000" stroke-width="0.15">IL2</text>
<text x="161" y="323.3" font-size="6.95" font-weight="bold" text-anchor="middle" fill="#000" stroke="#000" stroke-width="0.15">IL2+IL12</text>
<text x="205.4" y="323.3" font-size="6.95" font-weight="bold" text-anchor="middle" fill="#000" stroke="#000" stroke-width="0.15">NK1.1</text>
<text x="229.2" y="323.3" font-size="6.95" font-weight="bold" text-anchor="middle" fill="#000" stroke="#000" stroke-width="0.15">CD16</text>
<text x="253" y="323.3" font-size="6.95" font-weight="bold" text-anchor="middle" fill="#000" stroke="#000" stroke-width="0.15">Ly49D</text>
<text x="278.9" y="323.3" font-size="6.95" font-weight="bold" text-anchor="middle" fill="#000" stroke="#000" stroke-width="0.15">NKG2D</text>
<text x="299.8" y="323.3" font-size="6.95" font-weight="bold" text-anchor="middle" fill="#000" stroke="#000" stroke-width="0.15">IL2</text>
<text x="324.1" y="323.3" font-size="6.95" font-weight="bold" text-anchor="middle" fill="#000" stroke="#000" stroke-width="0.15">P/I</text>
<text x="385.1" y="323.3" font-size="6.95" font-weight="bold" text-anchor="middle" fill="#000" stroke="#000" stroke-width="0.15">NK1.1</text>
<text x="409.1" y="323.3" font-size="6.95" font-weight="bold" text-anchor="middle" fill="#000" stroke="#000" stroke-width="0.15">CD16</text>
<text x="432.4" y="323.3" font-size="6.95" font-weight="bold" text-anchor="middle" fill="#000" stroke="#000" stroke-width="0.15">Ly49D</text>
<text x="457.8" y="323.3" font-size="6.95" font-weight="bold" text-anchor="middle" fill="#000" stroke="#000" stroke-width="0.15">NKG2D</text>
<text x="479.6" y="323.3" font-size="6.95" font-weight="bold" text-anchor="middle" fill="#000" stroke="#000" stroke-width="0.15">IL2</text>
<text x="503.2" y="323.3" font-size="6.95" font-weight="bold" text-anchor="middle" fill="#000" stroke="#000" stroke-width="0.15">P/I</text>
</g>
</svg>
</body></html>
